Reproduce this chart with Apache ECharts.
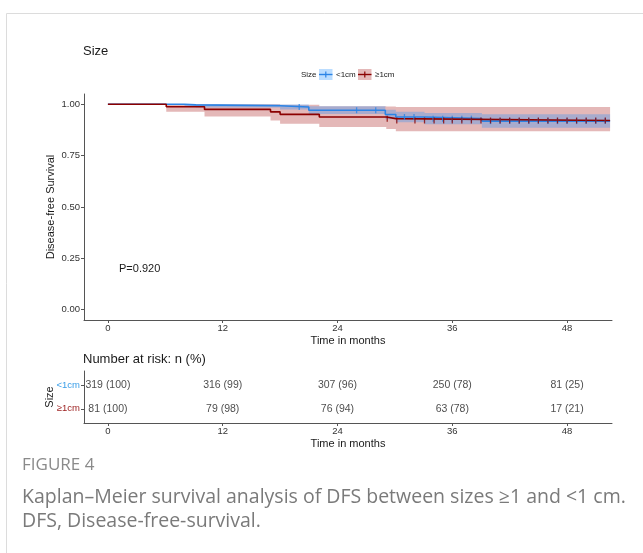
<!DOCTYPE html>
<html>
<head>
<meta charset="utf-8">
<script src="https://cdn.jsdelivr.net/npm/echarts@6/dist/echarts.min.js"></script>
<style>
html,body{margin:0;padding:0;background:#fff;}
#c{width:643px;height:553px;}
</style>
</head>
<body>
<div id="c"></div>
<script>
// ---- data ----
const monthTicks = [0, 12, 24, 36, 48];
const survTicks = [0, 0.25, 0.5, 0.75, 1];
const groups = ['<1cm', '≥1cm'];

// <1cm curve (step changes)
const blueTimes = [0, 8, 9.2, 18, 21, 29, 30.1, 33.1, 39.1, 52.5];
const blueSurv  = [1, 0.997, 0.993, 0.987, 0.971, 0.95, 0.938, 0.93, 0.918, 0.918];
const blueLower = [1, 0.991, 0.984, 0.975, 0.953, 0.927, 0.913, 0.903, 0.886, 0.886];
const blueUpper = [1, 1, 1, 0.999, 0.99, 0.973, 0.964, 0.958, 0.951, 0.951];
const blueCensor = [20, 26, 28, 31, 32, 34, 35, 36, 37, 38, 40, 41, 42, 43, 44, 45, 46, 47, 48, 49, 50, 51, 52];

// >=1cm curve
const redTimes = [0, 6.1, 10.1, 17, 18, 22.1, 29.1, 30.1, 52.5];
const redSurv  = [1, 0.988, 0.975, 0.963, 0.951, 0.938, 0.93, 0.921, 0.921];
const redLower = [1, 0.964, 0.941, 0.921, 0.905, 0.889, 0.88, 0.869, 0.869];
const redUpper = [1, 1, 1, 1, 0.998, 0.99, 0.989, 0.987, 0.987];
const redCensor = [29.2, 30.2, 32.1, 33.1, 34.1, 35.1, 36, 37, 38, 39, 40, 41, 42, 43, 44, 45, 46, 47, 48, 49, 50, 51, 52];

// number at risk
const riskBlue = ['319 (100)', '316 (99)', '307 (96)', '250 (78)', '81 (25)'];
const riskRed  = ['81 (100)', '79 (98)', '76 (94)', '63 (78)', '17 (21)'];

const pValue = 'P=0.920';

// ---- styles ----
const BLUE = '#2b84e6';
const BLUE_FILL = 'rgba(30,144,255,0.30)';
const RED = '#8b0000';
const RED_FILL = 'rgba(165,20,20,0.30)';
const AX = '#555555';
const FONT = '"Liberation Sans", Arial, sans-serif';

function stepAt(times, vals, t) {
  let v = vals[0];
  for (let i = 0; i < times.length; i++) { if (times[i] <= t) v = vals[i]; }
  return v;
}
function bandSeries(times, lo, hi, color) {
  return {
    type: 'custom', xAxisIndex: 0, yAxisIndex: 0, silent: true, z: 1,
    data: [[times[0], 1]],
    renderItem: function (params, api) {
      const pts = [];
      const n = times.length;
      for (let i = 0; i < n; i++) {
        pts.push(api.coord([times[i], hi[i]]));
        if (i < n - 1) pts.push(api.coord([times[i + 1], hi[i]]));
      }
      for (let i = n - 1; i >= 0; i--) {
        if (i < n - 1) pts.push(api.coord([times[i + 1], lo[i]]));
        pts.push(api.coord([times[i], lo[i]]));
      }
      return { type: 'polygon', shape: { points: pts }, style: { fill: color } };
    }
  };
}
function lineSeries(times, surv, color) {
  return {
    type: 'line', xAxisIndex: 0, yAxisIndex: 0, step: 'end', showSymbol: false, z: 3,
    data: times.map((t, i) => [t, surv[i]]),
    lineStyle: { color: color, width: 1.6 }, silent: true
  };
}
function censorSeries(times, surv, cens, color) {
  return {
    type: 'scatter', xAxisIndex: 0, yAxisIndex: 0, z: 4, silent: true,
    symbol: 'rect', symbolSize: [1.3, 6],
    itemStyle: { color: color },
    data: cens.map(t => [t, stepAt(times, surv, t)])
  };
}
function riskSeries(labels, row) {
  return {
    type: 'scatter', xAxisIndex: 1, yAxisIndex: 1, symbolSize: 0, silent: true,
    data: monthTicks.map(m => [m, row]),
    label: { show: true, position: 'inside', color: '#1a1a1a', fontSize: 10.5, fontFamily: FONT,
      formatter: p => labels[p.dataIndex] }
  };
}

const LABEL = { color: '#333333', fontSize: 9.5, fontFamily: FONT, margin: 4 };
function mkAxis(type, grid, min, max, ticks, extraLabel) {
  return {
    type: 'value', gridIndex: grid, min: min, max: max,
    axisLine: { show: true, onZero: false, lineStyle: { color: AX, width: 1 } },
    axisTick: { show: true, length: 3, lineStyle: { color: AX }, customValues: ticks },
    axisLabel: Object.assign({}, LABEL, { customValues: ticks }, extraLabel || {}),
    splitLine: { show: false }
  };
}

const chart = echarts.init(document.getElementById('c'), null, { renderer: 'canvas' });
chart.setOption({
  backgroundColor: '#ffffff',
  animation: false,
  grid: [
    { left: 84, top: 94, width: 528, height: 226 },
    { left: 84, top: 371, width: 528, height: 52 }
  ],
  xAxis: [
    mkAxis('x', 0, -2.5, 52.7, monthTicks, { margin: 3 }),
    mkAxis('x', 1, -2.5, 52.7, monthTicks, { margin: 3 })
  ],
  yAxis: [
    mkAxis('y', 0, -0.05, 1.05, survTicks, { formatter: v => v.toFixed(2) }),
    mkAxis('y', 1, 0.4, 2.6, [1, 2], {
      formatter: v => v === 2 ? '{b|' + groups[0] + '}' : '{r|' + groups[1] + '}',
      rich: {
        b: { color: '#3a9ee8', fontSize: 9.5, fontFamily: FONT },
        r: { color: '#9b1c1c', fontSize: 9.5, fontFamily: FONT }
      }
    })
  ],
  series: [
    bandSeries(redTimes, redLower, redUpper, RED_FILL),
    bandSeries(blueTimes, blueLower, blueUpper, BLUE_FILL),
    lineSeries(blueTimes, blueSurv, BLUE),
    lineSeries(redTimes, redSurv, RED),
    censorSeries(blueTimes, blueSurv, blueCensor, BLUE),
    censorSeries(redTimes, redSurv, redCensor, RED),
    riskSeries(riskBlue, 2),
    riskSeries(riskRed, 1)
  ],
  graphic: [
    // figure frame
    { type: 'line', shape: { x1: 6.5, y1: 13.5, x2: 643, y2: 13.5 }, style: { stroke: '#dcdcdc', lineWidth: 1 } },
    { type: 'line', shape: { x1: 6.5, y1: 13.5, x2: 6.5, y2: 553 }, style: { stroke: '#dcdcdc', lineWidth: 1 } },
    // title
    { type: 'text', x: 83, y: 51, style: { text: 'Size', font: '13px ' + FONT, fill: '#1a1a1a', textVerticalAlign: 'middle' } },
    // legend
    { type: 'text', x: 301, y: 74.5, style: { text: 'Size', font: '8px ' + FONT, fill: '#1a1a1a', textVerticalAlign: 'middle' } },
    { type: 'rect', shape: { x: 319, y: 69, width: 13.5, height: 11 }, style: { fill: BLUE_FILL } },
    { type: 'line', shape: { x1: 319, y1: 74.5, x2: 332.5, y2: 74.5 }, style: { stroke: BLUE, lineWidth: 1.4 } },
    { type: 'line', shape: { x1: 325.8, y1: 71.5, x2: 325.8, y2: 77.5 }, style: { stroke: BLUE, lineWidth: 1.2 } },
    { type: 'text', x: 336, y: 74.5, style: { text: '<1cm', font: '8px ' + FONT, fill: '#1a1a1a', textVerticalAlign: 'middle' } },
    { type: 'rect', shape: { x: 358, y: 69, width: 13.5, height: 11 }, style: { fill: RED_FILL } },
    { type: 'line', shape: { x1: 358, y1: 74.5, x2: 371.5, y2: 74.5 }, style: { stroke: RED, lineWidth: 1.4 } },
    { type: 'line', shape: { x1: 364.8, y1: 71.5, x2: 364.8, y2: 77.5 }, style: { stroke: RED, lineWidth: 1.2 } },
    { type: 'text', x: 375, y: 74.5, style: { text: '≥1cm', font: '8px ' + FONT, fill: '#1a1a1a', textVerticalAlign: 'middle' } },
    // axis titles
    { type: 'text', x: 51, y: 207, rotation: Math.PI / 2, style: { text: 'Disease-free Survival', font: '11px ' + FONT, fill: '#1a1a1a', textAlign: 'center', textVerticalAlign: 'middle' } },
    { type: 'text', x: 348, y: 341, style: { text: 'Time in months', font: '11px ' + FONT, fill: '#1a1a1a', textAlign: 'center', textVerticalAlign: 'middle' } },
    { type: 'text', x: 119, y: 269, style: { text: pValue, font: '11px ' + FONT, fill: '#1a1a1a', textVerticalAlign: 'middle' } },
    // risk table titles
    { type: 'text', x: 83, y: 359, style: { text: 'Number at risk: n (%)', font: '13px ' + FONT, fill: '#1a1a1a', textVerticalAlign: 'middle' } },
    { type: 'text', x: 50, y: 397, rotation: Math.PI / 2, style: { text: 'Size', font: '11px ' + FONT, fill: '#1a1a1a', textAlign: 'center', textVerticalAlign: 'middle' } },
    { type: 'text', x: 348, y: 443.5, style: { text: 'Time in months', font: '11px ' + FONT, fill: '#1a1a1a', textAlign: 'center', textVerticalAlign: 'middle' } },
    // caption
    { type: 'text', x: 22, y: 465, style: { text: 'FIGURE 4', font: '17px "Open Sans", sans-serif', fill: '#8a8a8a', textVerticalAlign: 'middle' } },
    { type: 'text', x: 22, y: 497, style: { text: 'Kaplan\u2013Meier survival analysis of DFS between sizes \u22651 and <1 cm.', font: '19.5px "Open Sans", sans-serif', fill: '#7a7a7a', textVerticalAlign: 'middle' } },
    { type: 'text', x: 22, y: 521, style: { text: 'DFS, Disease-free-survival.', font: '19.5px "Open Sans", sans-serif', fill: '#7a7a7a', textVerticalAlign: 'middle' } }
  ]
});
</script>
</body>
</html>
